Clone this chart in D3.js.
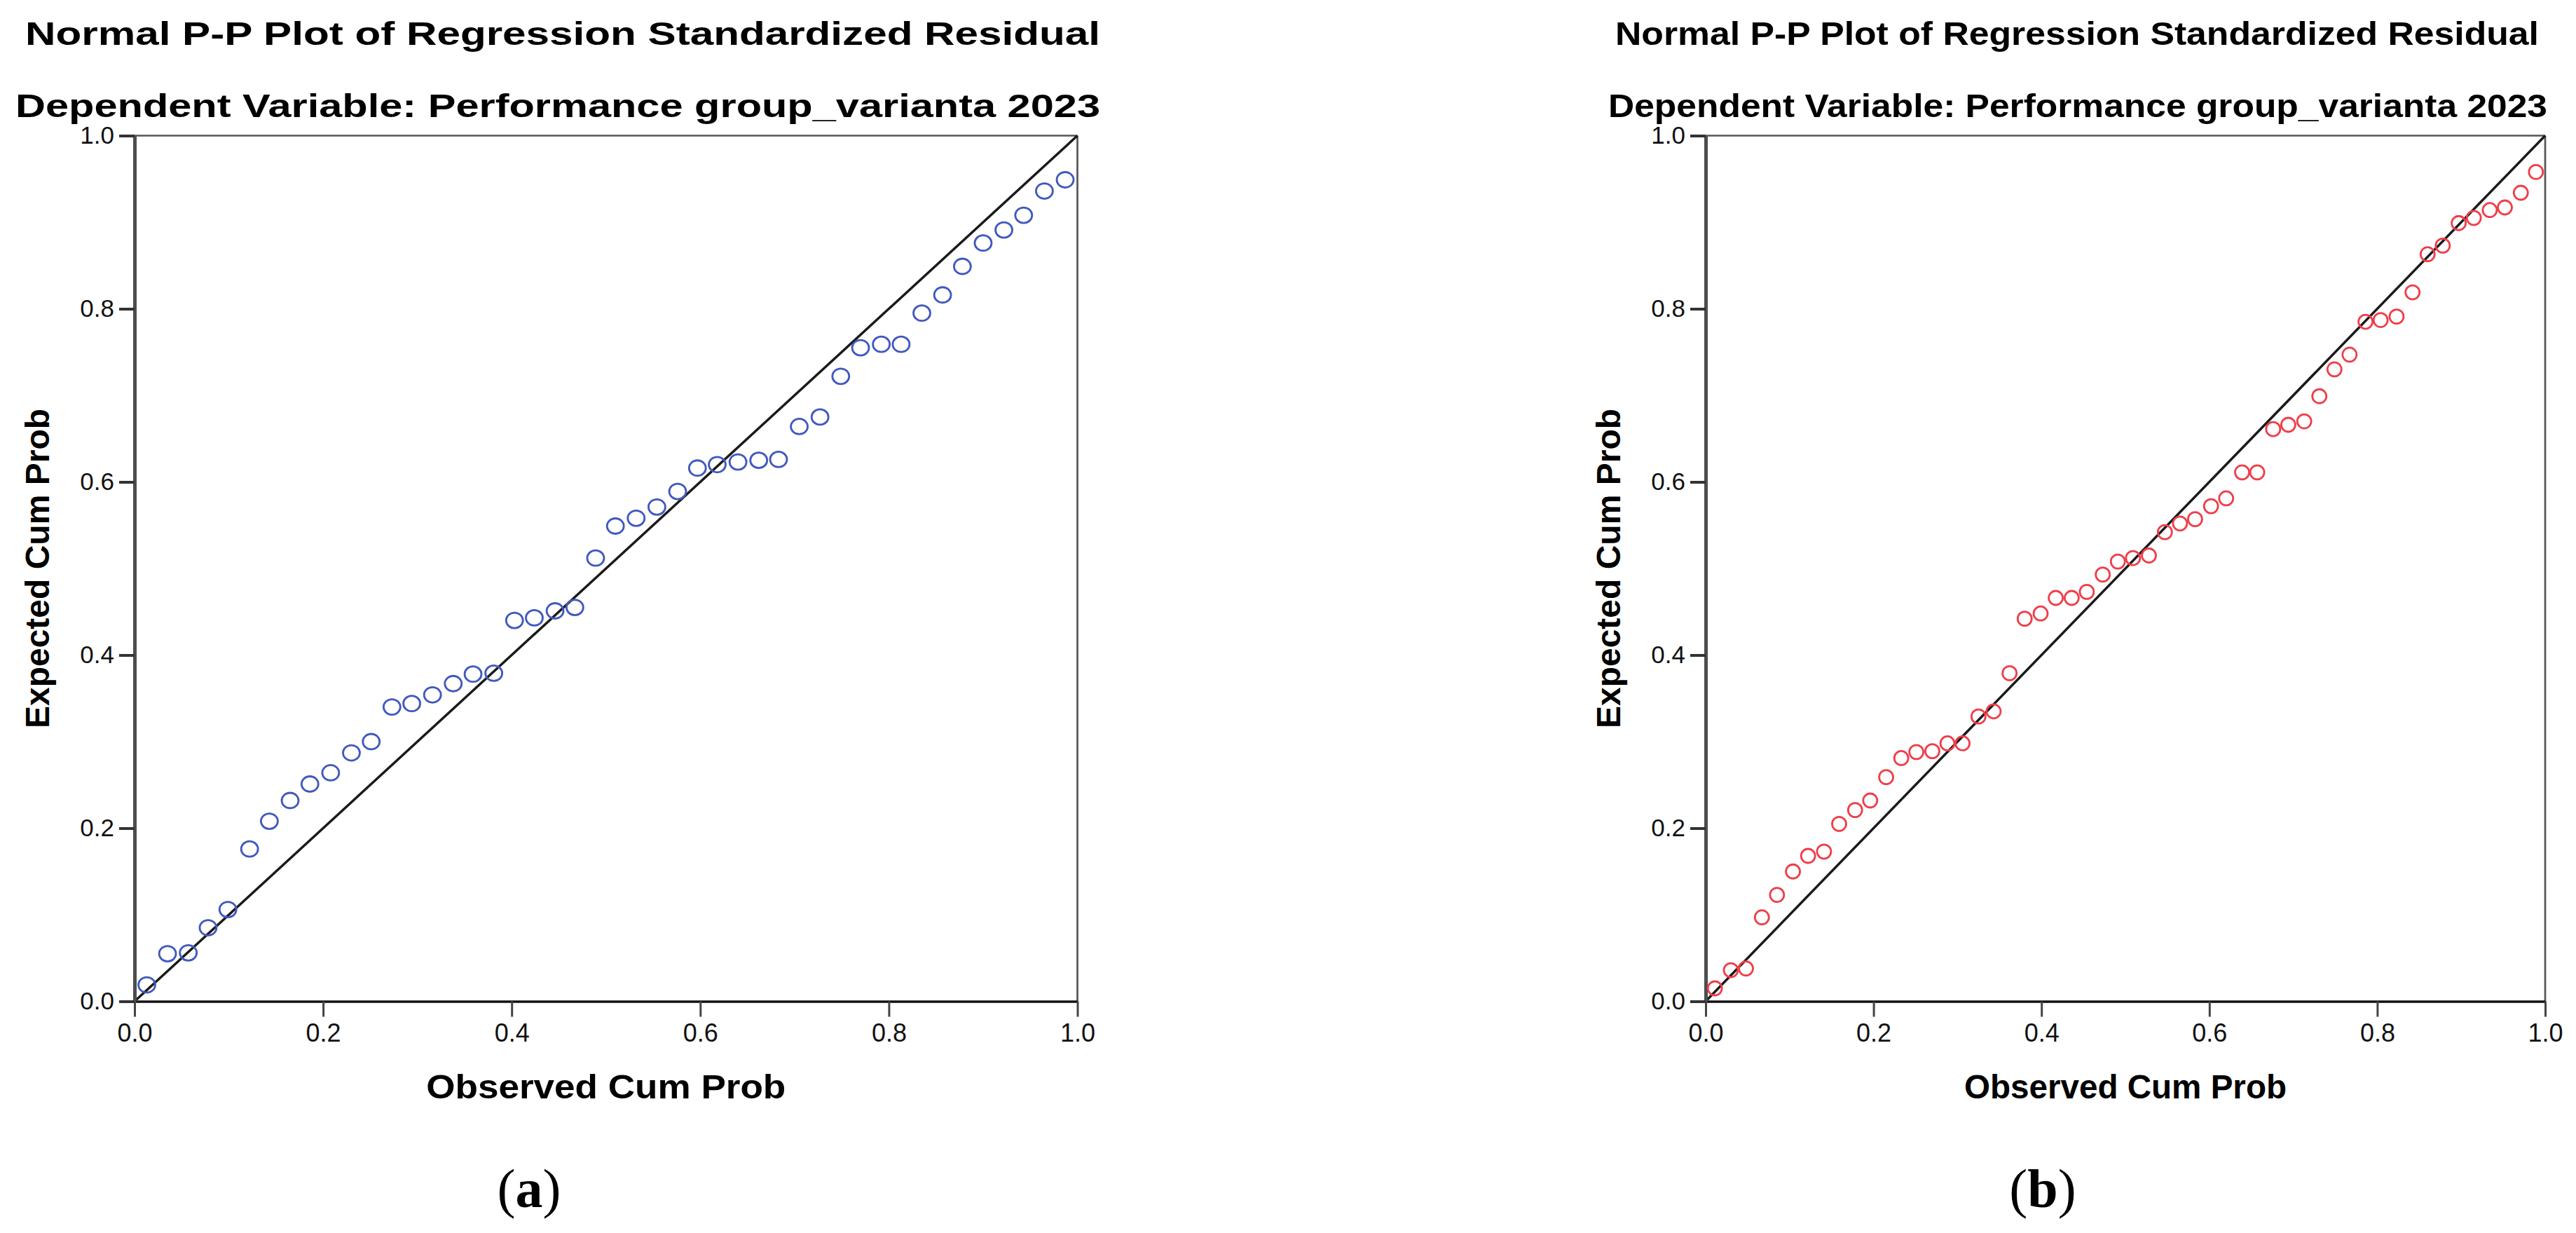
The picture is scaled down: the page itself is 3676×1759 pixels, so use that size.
<!DOCTYPE html>
<html>
<head>
<meta charset="utf-8">
<script src="https://cdn.jsdelivr.net/npm/d3@7.9.0/dist/d3.min.js"></script>
<style>
  html, body { margin: 0; padding: 0; background: #fff; }
  svg { display: block; font-family: "Liberation Sans", Arial, sans-serif; }
</style>
</head>
<body>
<svg id="chart" width="3676" height="1759"></svg>
<script>
// values
const tickValues = [0.0, 0.2, 0.4, 0.6, 0.8, 1.0];

const titleLine1 = "Normal P-P Plot of Regression Standardized Residual";
const titleLine2 = "Dependent Variable: Performance group_varianta 2023";
const xLabel = "Observed Cum Prob";
const yLabel = "Expected Cum Prob";
const captions = ["a", "b"];

// panel (a)
const observedA = [0.013, 0.035, 0.057, 0.078, 0.099, 0.122, 0.143, 0.165, 0.186, 0.208,
  0.230, 0.251, 0.273, 0.294, 0.316, 0.338, 0.359, 0.381, 0.403, 0.424,
  0.446, 0.467, 0.489, 0.510, 0.532, 0.554, 0.576, 0.597, 0.618, 0.640,
  0.662, 0.683, 0.705, 0.727, 0.749, 0.770, 0.792, 0.813, 0.835, 0.857,
  0.878, 0.900, 0.922, 0.943, 0.965, 0.987];
const expectedA = [0.019, 0.055, 0.056, 0.085, 0.106, 0.176, 0.208, 0.232, 0.251, 0.264,
  0.287, 0.300, 0.340, 0.344, 0.354, 0.367, 0.378, 0.379, 0.440, 0.443,
  0.451, 0.455, 0.512, 0.549, 0.558, 0.571, 0.589, 0.616, 0.620, 0.623,
  0.625, 0.626, 0.664, 0.675, 0.722, 0.755, 0.759, 0.759, 0.795, 0.816,
  0.849, 0.876, 0.891, 0.908, 0.936, 0.949];

// panel (b)
const observedB = [0.011, 0.030, 0.048, 0.067, 0.085, 0.104, 0.122, 0.141, 0.159, 0.178,
  0.196, 0.215, 0.233, 0.251, 0.270, 0.288, 0.306, 0.325, 0.343, 0.362,
  0.380, 0.399, 0.417, 0.436, 0.454, 0.473, 0.491, 0.509, 0.528, 0.547,
  0.565, 0.583, 0.602, 0.620, 0.639, 0.657, 0.676, 0.694, 0.713, 0.731,
  0.749, 0.767, 0.786, 0.804, 0.823, 0.842, 0.860, 0.878, 0.897, 0.915,
  0.934, 0.952, 0.971, 0.989];
const expectedB = [0.015, 0.036, 0.038, 0.097, 0.123, 0.150, 0.168, 0.173, 0.205, 0.221,
  0.232, 0.259, 0.281, 0.288, 0.289, 0.298, 0.298, 0.329, 0.335, 0.379,
  0.442, 0.448, 0.466, 0.466, 0.473, 0.493, 0.508, 0.512, 0.515, 0.542,
  0.552, 0.557, 0.572, 0.581, 0.611, 0.611, 0.661, 0.666, 0.670, 0.699,
  0.730, 0.747, 0.785, 0.787, 0.791, 0.819, 0.863, 0.873, 0.899, 0.905,
  0.914, 0.917, 0.934, 0.958];

// layout of the two panels (pixels)
const panels = [
  { obs: observedA, exp: expectedA, color: "#4159be", left: 192, right: 1537.5, rx: 12, ry: 11,
    t1: [36, 1534], t2: [22, 1548], yLab: 70, xLabW: 513, caption: 755 },
  { obs: observedB, exp: expectedB, color: "#ee3f4a", left: 2434, right: 3632, rx: 10, ry: 10,
    t1: [2305, 1318], t2: [2295, 1340], yLab: 2312, xLabW: 460, caption: 2915 }
];
const plotTop = 193.5, plotBottom = 1428.5;

const svg = d3.select("#chart");

panels.forEach((p, idx) => {
  let x = d3.scaleLinear().domain([0, 1]).range([p.left, p.right]);
  let y = d3.scaleLinear().domain([0, 1]).range([plotBottom, plotTop]);
  let g = svg.append("g");

  // titles
  g.append("text").attr("x", p.t1[0]).attr("y", 64)
    .attr("textLength", p.t1[1]).attr("lengthAdjust", "spacingAndGlyphs")
    .attr("font-size", 46).attr("font-weight", "bold").text(titleLine1);
  g.append("text").attr("x", p.t2[0]).attr("y", 167)
    .attr("textLength", p.t2[1]).attr("lengthAdjust", "spacingAndGlyphs")
    .attr("font-size", 46).attr("font-weight", "bold").text(titleLine2);

  // frame: top and right edges
  g.append("line").attr("x1", x(0)).attr("x2", x(1)).attr("y1", y(1)).attr("y2", y(1))
    .attr("stroke", "#555").attr("stroke-width", 2.5);
  g.append("line").attr("x1", x(1)).attr("x2", x(1)).attr("y1", y(1)).attr("y2", y(0))
    .attr("stroke", "#555").attr("stroke-width", 2.7);

  // reference diagonal
  g.append("line").attr("x1", x(0)).attr("y1", y(0)).attr("x2", x(1)).attr("y2", y(1))
    .attr("stroke", "#1a1a1a").attr("stroke-width", 3.5);

  // x axis
  let xAxis = g.append("g").attr("transform", `translate(0,${y(0)})`)
    .call(d3.axisBottom(x).tickValues(tickValues).tickFormat(d3.format(".1f"))
      .tickSize(22).tickSizeOuter(0).tickPadding(10));
  xAxis.attr("font-family", null);
  xAxis.select(".domain").attr("stroke", "#111").attr("stroke-width", 3.3);
  xAxis.selectAll(".tick line").attr("stroke", "#444").attr("stroke-width", 3);
  xAxis.selectAll(".tick text").attr("font-size", 36).attr("fill", "#111");

  // y axis
  let yAxis = g.append("g").attr("transform", `translate(${x(0)},0)`)
    .call(d3.axisLeft(y).tickValues(tickValues).tickFormat(d3.format(".1f"))
      .tickSize(22).tickSizeOuter(0).tickPadding(7));
  yAxis.attr("font-family", null);
  yAxis.select(".domain").attr("stroke", "#4d4d4d").attr("stroke-width", 5);
  yAxis.selectAll(".tick line").attr("stroke", "#333").attr("stroke-width", 4);
  yAxis.selectAll(".tick text").attr("font-size", 35).attr("fill", "#111");

  // points
  g.append("g").selectAll("ellipse")
    .data(p.obs.map((d, i) => [d, p.exp[i]]))
    .join("ellipse")
    .attr("cx", d => x(d[0])).attr("cy", d => y(d[1]))
    .attr("rx", p.rx).attr("ry", p.ry)
    .attr("fill", "none").attr("stroke", p.color).attr("stroke-width", 2.8);

  // axis labels
  g.append("text").attr("x", (x(0) + x(1)) / 2).attr("y", 1567)
    .attr("text-anchor", "middle").attr("font-size", 48).attr("font-weight", "bold")
    .attr("textLength", p.xLabW).attr("lengthAdjust", "spacingAndGlyphs")
    .text(xLabel);
  g.append("text")
    .attr("transform", `translate(${p.yLab},${(y(0) + y(1)) / 2}) rotate(-90)`)
    .attr("text-anchor", "middle").attr("font-size", 48).attr("font-weight", "bold")
    .text(yLabel);

  // caption
  let cap = g.append("text").attr("x", p.caption).attr("y", 1722)
    .attr("text-anchor", "middle").attr("font-size", 78)
    .style("font-family", "'Liberation Serif', 'Times New Roman', serif");
  cap.append("tspan").text("(");
  cap.append("tspan").attr("font-weight", "bold").text(captions[idx]);
  cap.append("tspan").text(")");
});
</script>
</body>
</html>
